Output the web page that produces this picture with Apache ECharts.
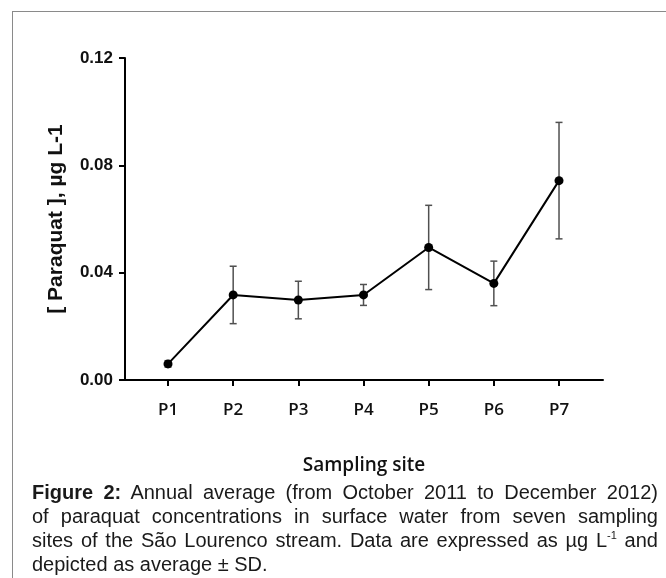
<!DOCTYPE html>
<html>
<head>
<meta charset="utf-8">
<script src="https://cdn.jsdelivr.net/npm/echarts@6/dist/echarts.min.js"></script>
<style>
  html, body { margin: 0; padding: 0; background: #fff; }
  #frame {
    position: absolute; left: 12px; top: 11px; width: 700px; height: 600px;
    border-left: 1px solid #8a8a8a; border-top: 1px solid #8a8a8a;
  }
  #chart { position: absolute; left: 0; top: 0; width: 666px; height: 578px; }
  #caption {
    position: absolute; left: 32px; top: 480px; width: 626px;
    font-family: "Liberation Sans", Arial, sans-serif; font-size: 20px;
    line-height: 24px; color: #1a1a1a;
  }
  #caption div { text-align: justify; text-align-last: justify; white-space: nowrap; }
  #caption div.last { text-align-last: left; }
  #caption sup { font-size: 11px; line-height: 0; vertical-align: 8px; }
</style>
</head>
<body>
<div id="frame"></div>
<div id="chart"></div>
<div id="caption">
  <div><b>Figure 2:</b> Annual average (from October 2011 to December 2012)</div>
  <div>of paraquat concentrations in surface water from seven sampling</div>
  <div>sites of the São Lourenco stream. Data are expressed as µg L<sup>-1</sup> and</div>
  <div class="last">depicted as average ± SD.</div>
</div>
<script>
// sampling sites along the stream
const sites = ['P1', 'P2', 'P3', 'P4', 'P5', 'P6', 'P7'];
// annual average paraquat, ug/L
const meanConc = [0.006, 0.0317, 0.0298, 0.0317, 0.0494, 0.036, 0.0743];
// standard deviation
const sdConc = [0.0012, 0.0107, 0.007, 0.0039, 0.0157, 0.0083, 0.0217];
const yTicks = [0, 0.04, 0.08, 0.12];

const sitePos = sites.map((s, i) => i + 1);
const meanData = sites.map((s, i) => [sitePos[i], meanConc[i]]);
const errData = sites.map((s, i) => [sitePos[i], meanConc[i] - sdConc[i], meanConc[i] + sdConc[i]]);

const myChart = echarts.init(document.getElementById('chart'));

function renderErr(params, api) {
  const lo = api.coord([api.value(0), api.value(1)]);
  const hi = api.coord([api.value(0), api.value(2)]);
  const cap = 3.5;
  const style = { stroke: '#505050', lineWidth: 1.5 };
  return {
    type: 'group',
    children: [
      { type: 'line', shape: { x1: lo[0], y1: lo[1], x2: hi[0], y2: hi[1] }, style: style },
      { type: 'line', shape: { x1: hi[0] - cap, y1: hi[1], x2: hi[0] + cap, y2: hi[1] }, style: style },
      { type: 'line', shape: { x1: lo[0] - cap, y1: lo[1], x2: lo[0] + cap, y2: lo[1] }, style: style }
    ]
  };
}

const option = {
  animation: false,
  grid: { left: 125, right: 63, top: 58, bottom: 198 },
  xAxis: {
    type: 'value',
    min: 0.34,
    max: 7.675,
    name: 'Sampling site',
    nameLocation: 'middle',
    nameGap: 76,
    nameTextStyle: { fontFamily: 'Open Sans', fontWeight: 600, fontSize: 19, color: '#111' },
    splitLine: { show: false },
    axisLine: { onZero: false, lineStyle: { color: '#000', width: 2 } },
    axisTick: { customValues: sitePos, length: 6, lineStyle: { color: '#000', width: 2 } },
    axisLabel: {
      customValues: sitePos,
      margin: 22,
      formatter: v => sites[Math.round(v) - 1],
      fontFamily: 'Open Sans', fontWeight: 600, fontSize: 17, color: '#111'
    }
  },
  yAxis: {
    type: 'value',
    min: yTicks[0],
    max: yTicks[yTicks.length - 1],
    interval: yTicks[1] - yTicks[0],
    name: '[ Paraquat ], µg L-1',
    nameLocation: 'middle',
    nameGap: 58,
    nameTextStyle: { fontFamily: 'Liberation Sans', fontWeight: 'bold', fontSize: 21, color: '#111' },
    splitLine: { show: false },
    axisLine: { show: true, lineStyle: { color: '#000', width: 2 } },
    axisTick: { show: true, length: 6, lineStyle: { color: '#000', width: 2 } },
    axisLabel: {
      margin: 12,
      formatter: v => v.toFixed(2),
      fontFamily: 'Liberation Sans', fontWeight: 'bold', fontSize: 17, color: '#111'
    }
  },
  series: [
    {
      type: 'custom',
      renderItem: renderErr,
      data: errData,
      z: 1
    },
    {
      type: 'line',
      data: meanData,
      symbol: 'circle',
      symbolSize: 9,
      itemStyle: { color: '#000' },
      lineStyle: { color: '#000', width: 2 },
      z: 2
    }
  ]
};

myChart.setOption(option);
</script>
</body>
</html>
